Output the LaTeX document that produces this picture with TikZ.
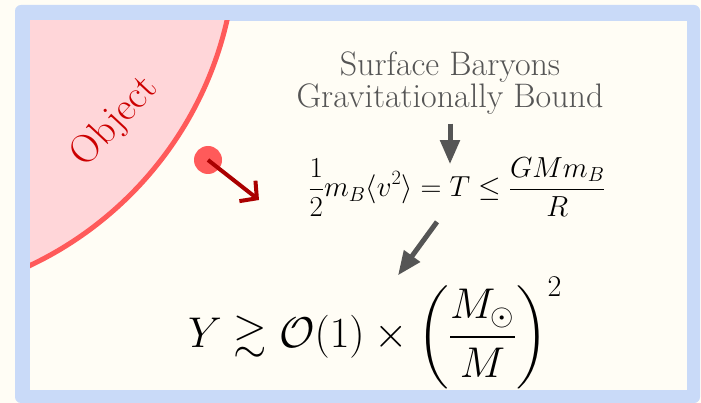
\documentclass[tikz,border=0pt]{standalone}
\usepackage{fix-cm}
\usepackage{amsmath,amssymb}
\usetikzlibrary{arrows.meta}
\definecolor{cream}{HTML}{FFFDF5}
\definecolor{frameblue}{HTML}{C9DAF8}
\definecolor{objfill}{HTML}{FFD6D9}
\definecolor{objedge}{HTML}{FF5A5A}
\definecolor{objtext}{HTML}{CC0000}
\definecolor{pushred}{HTML}{AA0000}
\definecolor{inkgray}{HTML}{555555}
\begin{document}
\begin{tikzpicture}[x=1pt, y=-1pt,
    flow/.style={draw=inkgray, line width=5pt, -{Triangle[length=24pt, width=19pt]}},
    push/.style={draw=pushred, line width=4pt, -{Straight Barb[length=12pt, width=26pt]}},
    eqn/.style={inner sep=2pt}]
  \useasboundingbox (0,0) rectangle (701,403);
  \fill[cream] (0,0) rectangle (701,403);
  \fill[frameblue, rounded corners=6pt] (15,5) rectangle (700,403);
  \fill[cream] (30,21) rectangle (687,390);
  \begin{scope}
    \clip (30,21) rectangle (687,390);
    \draw[draw=objedge, fill=objfill, line width=5pt] (-124,-60) circle [radius=360pt];
  \end{scope}
  \node[text=objtext, font=\fontsize{40}{44}\selectfont, rotate=47] (obj) at (115,122) {Object};
  \node[circle, fill=objedge, minimum size=28pt, inner sep=0pt] (baryon) at (208,160) {};
  \coordinate (kick) at (259,200);
  \draw[push] (baryon.center) -- (kick);
  \node[align=center, text=inkgray, font=\fontsize{34}{30}\selectfont] (surf) at (450,83) {Surface Baryons\\Gravitationally Bound};
  \node[eqn, font=\fontsize{29}{32}\selectfont] (virial) at (457,187) {$\displaystyle \frac{1}{2}m_B\langle v^2\rangle = T \leq \frac{GMm_B}{R}$};
  \node[eqn, font=\fontsize{43}{47}\selectfont] (result) at (375,333) {$\displaystyle Y \gtrsim \mathcal{O}(1)\times\left(\frac{M_\odot}{M}\right)^2$};
  \draw[flow, shorten <=6pt, shorten >=-9pt] (surf.south) -- (surf.south |- virial.north);
  \draw[flow] ([xshift=-20pt, yshift=-3pt]virial.south) -- ([xshift=23pt]result.north);
\end{tikzpicture}
\end{document}
